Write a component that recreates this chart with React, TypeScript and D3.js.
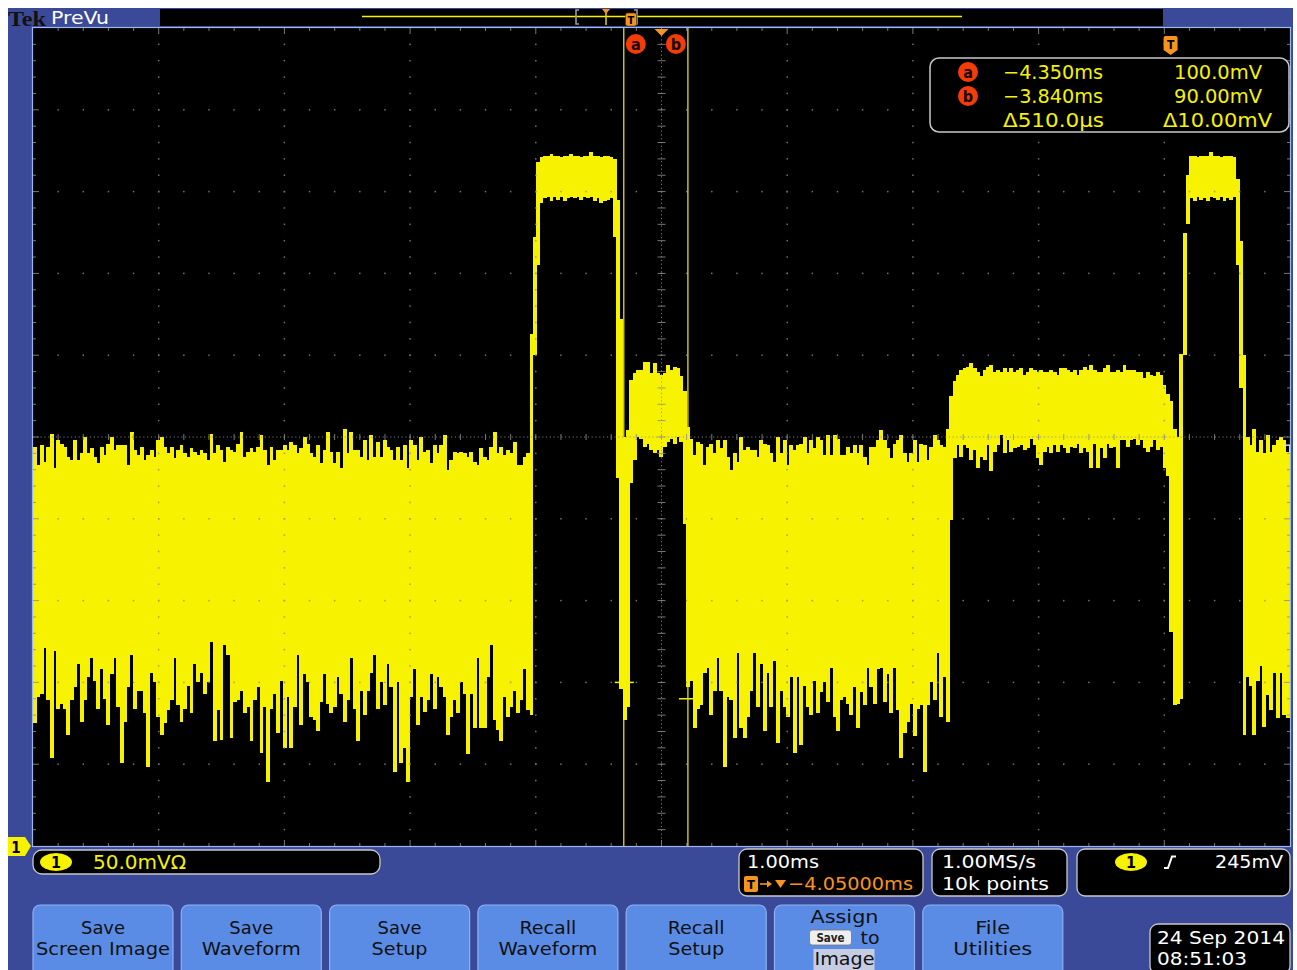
import React from "react";
import * as d3 from "d3";

// ---------- axis / acquisition settings ----------
const T_LEFT_MS = -9.05; // left edge of screen (10 div x 1.00 ms)
const T_RIGHT_MS = 0.95;
const V_MIN_MV = 0; // ground at bottom edge, 50 mV/div, 10 div
const V_MAX_MV = 500;
const COL_MS = 0.0265; // width of one display column (envelope max/min)

const CURSOR_A_MS = -4.35;
const CURSOR_B_MS = -3.84;
const CURSOR_A_MV = 100;
const CURSOR_B_MV = 90;
const TRIGGER_LEVEL_MV = 245;

// ---------- waveform envelope (max / min per display column, mV) ----------
const noiseAStartMs = -9.05;
const noiseAMax = [
  244, 233, 245, 235, 244, 252, 231, 248, 246, 244,
  238, 236, 248, 236, 240, 250, 240, 243, 238, 234,
  244, 239, 246, 250, 242, 245, 245, 245, 233, 253,
  242, 239, 244, 236, 239, 242, 238, 248, 250, 244,
  240, 244, 237, 242, 245, 240, 238, 243, 241, 239,
  242, 240, 236, 252, 240, 245, 242, 235, 244, 242,
  241, 246, 253, 238, 241, 243, 241, 244, 251, 242,
  233, 244, 236, 242,
  242, 245, 242, 247, 245, 240, 243, 250, 246, 240,
  238, 245, 234, 242, 253, 241, 234, 241, 231, 255,
  240, 253, 242, 242, 238, 248, 236, 251, 238, 247,
  238, 248, 244, 242, 236, 244, 236, 245, 231, 248,
  245, 236, 250, 241, 242, 234, 245, 240, 245, 251,
  230, 236, 241, 240, 241, 240, 238, 241, 235, 233,
  243, 238, 236, 244, 253, 240, 244, 239, 242, 240,
  247, 233, 233, 238, 240,
];
const noiseAMin = [
  75, 91, 93, 121, 89, 54, 119, 84, 87, 84,
  68, 89, 97, 111, 76, 89, 103, 115, 101, 84,
  108, 90, 74, 105, 115, 85, 51, 76, 97, 117,
  84, 95, 95, 81, 48, 106, 100, 79, 68, 75,
  83, 89, 115, 86, 76, 84, 98, 81, 111, 100,
  106, 93, 100, 125, 64, 83, 65, 123, 117, 66,
  88, 89, 95, 81, 85, 64, 89, 97, 57, 85,
  39, 84, 93, 69,
  101, 60, 91, 60, 85, 117, 74, 105, 100, 79,
  77, 70, 88, 105, 87, 81, 85, 103, 93, 76,
  89, 115, 84, 64, 95, 80, 95, 106, 117, 84,
  100, 86, 111, 97, 45, 100, 51, 60, 39, 91,
  108, 74, 91, 82, 89, 105, 84, 103, 97, 91,
  68, 79, 89, 81, 100, 93, 56, 93, 72, 115,
  72, 72, 103, 123, 77, 71, 64, 91, 79, 85,
  95, 81, 89, 108, 83,
];

const burst1StartMs = -5.1;
const burst1Max = [
  313, 372, 418,
  421, 422, 422, 423, 422, 422, 421, 422, 422, 423, 422,
  422, 421, 422, 422, 424, 422, 422, 421, 422, 422, 421,
  420, 395, 322, 250, 254,
];
const burst1Min = [
  80, 300, 355,
  393, 396, 397, 394, 397, 395, 397, 394, 396, 397, 396,
  397, 395, 397, 396, 397, 394, 396, 393, 394, 395, 396,
  372, 225, 96, 77, 85,
];

const plateau1StartMs = -4.305;
const plateau1Max = [
  285,
  289, 291, 291, 296, 296, 289, 295, 289, 288, 289, 294, 291, 293, 292, 287,
  278, 256,
];
const plateau1Min = [
  222,
  236, 250, 249, 244, 246, 242, 240, 242, 238, 244, 247, 249, 246, 250, 247,
  197, 97,
];

const noiseBStartMs = -3.828;
const noiseBMax = [
  249, 239, 247, 246, 233, 244, 246, 240, 248, 243,
  248, 238, 230, 240, 235, 250, 242, 244, 242, 242,
  238, 248, 246, 245, 240, 235, 250, 240, 248, 233,
  245, 242, 245, 246, 250, 240, 248, 243, 250, 248,
  239, 251, 239, 251, 249, 239, 239, 244, 240, 245,
  240, 245, 238, 233, 244, 244, 248, 254, 248, 243,
  237, 246, 248, 251, 240, 235, 240, 248, 235, 246,
  245, 236, 244, 251, 248, 245, 244, 255,
];
const noiseBMin = [
  101, 72, 84, 86, 106, 109, 80, 95, 115, 95,
  48, 91, 89, 66, 118, 72, 66, 79, 95, 118,
  85, 111, 70, 106, 85, 113, 63, 95, 85, 79,
  103, 57, 103, 62, 98, 85, 80, 101, 81, 94,
  100, 88, 109, 79, 70, 89, 91, 87, 80, 97,
  72, 94, 86, 109, 97, 87, 108, 109, 88, 105,
  81, 109, 83, 54, 69, 76, 87, 67, 84, 86,
  45, 86, 100, 89, 118, 79, 103, 76,
];

const plateau2StartMs = -1.76;
const plateau2Max = [
  275,
  284, 288, 291, 292, 293, 295, 292, 290, 287, 291,
  293, 294, 290, 291, 290, 292, 290, 292, 290, 291,
  292, 288, 290, 292, 291, 290, 291, 290, 290, 291,
  290, 288, 292, 292, 291, 290, 291, 288, 291, 293,
  291, 294, 291, 290, 290, 292, 294, 290, 290, 291,
  290, 294, 291, 291, 291, 290, 290, 286, 290, 288,
  287, 290, 288, 282,
];
const plateau2Min = [
  199,
  237, 245, 238, 245, 243, 236, 242, 231, 238, 236,
  245, 229, 241, 245, 251, 240, 248, 241, 243, 244,
  245, 242, 243, 249, 245, 237, 233, 241, 244, 240,
  245, 241, 245, 243, 240, 244, 243, 246, 240, 243,
  241, 231, 246, 231, 243, 237, 246, 243, 244, 231,
  248, 248, 244, 248, 249, 245, 248, 243, 241, 244,
  248, 242, 244, 231,
];

const burst2StartMs = -0.037;
const burst2Max = [
  276, 272, 255, 250, 301, 375, 410,
  422, 422, 421, 422, 422, 422, 424, 422, 422, 421, 422, 422, 422, 421,
  408, 370, 300,
];
const burst2Min = [
  226, 131, 86, 87, 90, 300, 380,
  396, 394, 397, 395, 396, 394, 397, 396, 395, 397, 394, 396, 395, 397,
  355, 280, 68,
];

const noiseCStartMs = 0.598;
const noiseCMax = [250, 245, 255, 241, 248, 240, 251, 241, 245, 248, 250, 248, 241, 245];
const noiseCMin = [103, 98, 68, 101, 110, 73, 92, 83, 106, 78, 106, 80, 78, 129];

// ---------- labels ----------
const cursorRows = [
  { id: "a", time: "\u22124.350ms", volt: "100.0mV" },
  { id: "b", time: "\u22123.840ms", volt: "90.00mV" },
];
const cursorDeltaTime = "\u0394510.0\u00b5s";
const cursorDeltaVolt = "\u039410.00mV";
const channelScale = "50.0mV\u03a9";
const timebase = "1.00ms";
const delayText = "\u22124.05000ms";
const sampleRate = "1.00MS/s";
const recordLength = "10k points";
const triggerLevel = "245mV";
const dateLine = "24 Sep  2014";
const timeLine = "08:51:03";
const buttonLabels = [
  ["Save", "Screen Image"],
  ["Save", "Waveform"],
  ["Save", "Setup"],
  ["Recall", "Waveform"],
  ["Recall", "Setup"],
  ["Assign", "to", "Image"],
  ["File", "Utilities"],
];
// measured label widths (px) on the soft buttons
const labelWidths: Record<string, number> = {
  Save: 44,
  "Screen Image": 134,
  Waveform: 99,
  Setup: 56,
  Recall: 57,
  Assign: 68,
  to: 19,
  Image: 60,
  File: 35,
  Utilities: 79,
};

// ---------- styling ----------
const BLUE = "#3b4a98";
const BTN = "#5a8ce6";
const YEL = "#f6f200";
const ORANGE = "#f7941d";
const RED = "#f43c08";
const GRID = "#8e8e8e";
const FONT = "'DejaVu Sans Condensed', 'DejaVu Sans', sans-serif";
const SCR = { x0: 33, x1: 1290, y0: 28, y1: 846 };

function T(props: any) {
  const { children, ...rest } = props;
  return (
    <text fontFamily={FONT} fontStretch="condensed" lengthAdjust="spacingAndGlyphs" {...rest}>
      {children}
    </text>
  );
}

export default function App() {
  const x = d3.scaleLinear().domain([T_LEFT_MS, T_RIGHT_MS]).range([SCR.x0, SCR.x1]);
  const y = d3.scaleLinear().domain([V_MIN_MV, V_MAX_MV]).range([SCR.y1, SCR.y0]);

  const segments = [
    { start: noiseAStartMs, max: noiseAMax, min: noiseAMin },
    { start: burst1StartMs, max: burst1Max, min: burst1Min },
    { start: plateau1StartMs, max: plateau1Max, min: plateau1Min },
    { start: noiseBStartMs, max: noiseBMax, min: noiseBMin },
    { start: plateau2StartMs, max: plateau2Max, min: plateau2Min },
    { start: burst2StartMs, max: burst2Max, min: burst2Min },
    { start: noiseCStartMs, max: noiseCMax, min: noiseCMin },
  ];
  const cols = segments.flatMap((s) =>
    s.max.map((mx, j) => ({ t0: s.start + j * COL_MS, mx, mn: s.min[j] }))
  );

  const minorX = d3.range(0, 51).map((m) => T_LEFT_MS + m * 0.2);
  const minorY = d3.range(0, 51).map((m) => V_MIN_MV + m * 10);
  const majorX = d3.range(0, 11).map((k) => T_LEFT_MS + k);
  const majorY = d3.range(0, 11).map((k) => V_MIN_MV + k * 50);
  const cx = x(majorX[5]);
  const cy = y(majorY[5]);

  const gridDots: any[] = [];
  majorY.slice(1, 10).forEach((v, k) => {
    if (k === 4) return;
    minorX.slice(1, 50).forEach((t, m) =>
      gridDots.push(<rect key={`h${k}-${m}`} x={x(t) - 0.75} y={y(v) - 0.75} width={1.5} height={1.5} fill={GRID} />)
    );
  });
  majorX.slice(1, 10).forEach((t, k) => {
    if (k === 4) return;
    minorY.slice(1, 50).forEach((v, m) =>
      gridDots.push(<rect key={`v${k}-${m}`} x={x(t) - 0.75} y={y(v) - 0.75} width={1.5} height={1.5} fill={GRID} />)
    );
  });
  const ticks: any[] = [];
  minorX.slice(1, 50).forEach((t, m) => {
    const major = (m + 1) % 5 === 0;
    const len = major ? 6 : 3;
    ticks.push(<line key={`tt${m}`} x1={x(t)} x2={x(t)} y1={SCR.y0} y2={SCR.y0 + len} />);
    ticks.push(<line key={`tb${m}`} x1={x(t)} x2={x(t)} y1={SCR.y1} y2={SCR.y1 - len} />);
    ticks.push(<line key={`tc${m}`} x1={x(t)} x2={x(t)} y1={cy - 3} y2={cy + 3} />);
  });
  minorY.slice(1, 50).forEach((v, m) => {
    const major = (m + 1) % 5 === 0;
    const len = major ? 6 : 3;
    ticks.push(<line key={`tl${m}`} y1={y(v)} y2={y(v)} x1={SCR.x0} x2={SCR.x0 + len} />);
    ticks.push(<line key={`tr${m}`} y1={y(v)} y2={y(v)} x1={SCR.x1} x2={SCR.x1 - len} />);
    ticks.push(<line key={`tm${m}`} y1={y(v)} y2={y(v)} x1={cx - 4} x2={cx + 4} />);
  });

  const xa = x(CURSOR_A_MS);
  const xb = x(CURSOR_B_MS);
  const btnPitch = 148.3;
  const BF = 17.5; // soft-button label font size

  return (
    <svg
      width={1297}
      height={970}
      viewBox="0 0 1297 970"
      style={{ position: "absolute", left: 0, top: 0, display: "block" }}
    >
      <defs>
        <clipPath id="scr">
          <rect x={SCR.x0} y={SCR.y0} width={SCR.x1 - SCR.x0} height={SCR.y1 - SCR.y0} />
        </clipPath>
      </defs>
      <rect x={0} y={0} width={1297} height={970} fill="#fff" />
      {/* frame */}
      <rect x={8} y={8} width={1285} height={962} fill={BLUE} />
      {/* header */}
      <T x={8} y={26} fontSize={21} fontWeight="bold" fill="#111" textLength={38} fontFamily="'Liberation Serif', serif">
        Tek
      </T>
      <T x={51} y={23.5} fontSize={18} fill="#fff" textLength={58}>
        PreVu
      </T>
      <rect x={160} y={9} width={1003} height={17} fill="#000" />
      <line x1={362} x2={962} y1={16.5} y2={16.5} stroke={YEL} strokeWidth={1.5} />
      <path d="M579,10 L576,10 L576,24 L579,24" fill="none" stroke="#9a9a9a" strokeWidth={1.6} />
      <path d="M634,10 L637,10 L637,24 L634,24" fill="none" stroke="#9a9a9a" strokeWidth={1.6} />
      <line x1={606} x2={606} y1={10} y2={25} stroke="#e8d000" strokeWidth={1.5} />
      <path d="M602,9 L610,9 L606,14 Z" fill={ORANGE} />
      <rect x={625.5} y={13} width={11} height={13} rx={2} fill={ORANGE} stroke="#333" strokeWidth={0.6} />
      <T x={631} y={24} fontSize={11} fontWeight="bold" fill="#000" textAnchor="middle">
        T
      </T>

      {/* screen */}
      <rect x={SCR.x0} y={SCR.y0} width={SCR.x1 - SCR.x0} height={SCR.y1 - SCR.y0} fill="#000" />
      <g clipPath="url(#scr)" shapeRendering="crispEdges">
        {cols.map((c, i) => {
          const x0 = x(c.t0);
          const x1 = x(c.t0 + COL_MS);
          return (
            <rect key={i} x={x0} width={x1 - x0 + 0.6} y={y(c.mx)} height={y(c.mn) - y(c.mx)} fill={YEL} />
          );
        })}
      </g>
      {/* graticule */}
      <g opacity={0.8}>{gridDots}</g>
      <g stroke={GRID} strokeWidth={1} opacity={0.85}>
        {ticks}
        <line x1={SCR.x0} x2={SCR.x1} y1={cy} y2={cy} strokeDasharray="1.2 2.6" />
        <line x1={cx} x2={cx} y1={SCR.y0} y2={SCR.y1} strokeDasharray="1.2 2.6" />
      </g>
      <rect
        x={SCR.x0 - 0.5}
        y={SCR.y0 - 0.5}
        width={SCR.x1 - SCR.x0 + 1}
        height={SCR.y1 - SCR.y0 + 1}
        fill="none"
        stroke="#9fb6ec"
        strokeWidth={1.2}
      />

      {/* cursors */}
      <g stroke={YEL} strokeWidth={1.2}>
        <line x1={xa} x2={xa} y1={SCR.y0} y2={SCR.y1} />
        <line x1={xb} x2={xb} y1={SCR.y0} y2={SCR.y1} />
        <line x1={xa - 9} x2={xa + 10} y1={y(CURSOR_A_MV)} y2={y(CURSOR_A_MV)} strokeWidth={1.5} />
        <line x1={xb - 9} x2={xb + 10} y1={y(CURSOR_B_MV)} y2={y(CURSOR_B_MV)} strokeWidth={1.5} />
      </g>
      {[
        { id: "a", cxp: xa + 12 },
        { id: "b", cxp: xb - 12 },
      ].map((c) => (
        <g key={c.id}>
          <circle cx={c.cxp} cy={44} r={10} fill={RED} />
          <T x={c.cxp} y={49.5} fontSize={16} fontWeight="bold" fill="#1a0000" textAnchor="middle">
            {c.id}
          </T>
        </g>
      ))}
      <path d={`M${cx - 7},${SCR.y0 + 1} L${cx + 7},${SCR.y0 + 1} L${cx},${SCR.y0 + 8} Z`} fill={ORANGE} />
      {/* trigger position marker */}
      <path
        d={`M${x(0) - 7},38 Q${x(0) - 7},36 ${x(0) - 5},36 L${x(0) + 5},36 Q${x(0) + 7},36 ${x(0) + 7},38 L${x(0) + 7},50 L${x(0)},55 L${x(0) - 7},50 Z`}
        fill={ORANGE}
      />
      <T x={x(0)} y={49} fontSize={12} fontWeight="bold" fill="#000" textAnchor="middle">
        T
      </T>
      {/* trigger level indicator */}
      <line x1={SCR.x1 - 7} x2={SCR.x1} y1={y(TRIGGER_LEVEL_MV)} y2={y(TRIGGER_LEVEL_MV)} stroke="#dddddd" strokeWidth={1.5} />

      {/* cursor readout */}
      <rect x={930} y={58} width={359} height={74} rx={9} fill="#000" stroke="#c9c9c9" strokeWidth={1.5} />
      {cursorRows.map((r, i) => (
        <g key={r.id}>
          <circle cx={968} cy={72 + i * 24} r={10} fill={RED} />
          <T x={968} y={77.5 + i * 24} fontSize={16} fontWeight="bold" fill="#1a0000" textAnchor="middle">
            {r.id}
          </T>
          <T x={1003} y={79 + i * 24} fontSize={20} fill={YEL} textLength={100}>
            {r.time}
          </T>
          <T x={1262} y={79 + i * 24} fontSize={20} fill={YEL} textLength={88} textAnchor="end">
            {r.volt}
          </T>
        </g>
      ))}
      <T x={1003} y={127} fontSize={20} fill={YEL} textLength={101}>
        {cursorDeltaTime}
      </T>
      <T x={1272} y={127} fontSize={20} fill={YEL} textLength={109} textAnchor="end">
        {cursorDeltaVolt}
      </T>

      {/* channel ground marker */}
      <path d="M8,837 L25,837 L31,846 L25,856 L8,856 Z" fill={YEL} />
      <T x={16} y={853} fontSize={15} fontWeight="bold" fill="#000" textAnchor="middle">
        1
      </T>

      {/* channel readout */}
      <rect x={33} y={850} width={347} height={24} rx={9} fill="#000" stroke="#c9c9c9" strokeWidth={1.3} />
      <ellipse cx={56} cy={862} rx={16} ry={9} fill={YEL} />
      <T x={56} y={868} fontSize={16} fontWeight="bold" fill="#000" textAnchor="middle">
        1
      </T>
      <T x={93} y={869} fontSize={19} fill={YEL} textLength={93}>
        {channelScale}
      </T>

      {/* timebase */}
      <rect x={739} y={849} width={184} height={47} rx={8} fill="#000" stroke="#c9c9c9" strokeWidth={1.3} />
      <T x={747} y={868} fontSize={18.5} fill="#fff" textLength={72}>
        {timebase}
      </T>
      <rect x={744} y={876} width={14} height={16} rx={2} fill={ORANGE} />
      <T x={751} y={889} fontSize={13} fontWeight="bold" fill="#000" textAnchor="middle">
        T
      </T>
      <line x1={760} x2={769} y1={884} y2={884} stroke={ORANGE} strokeWidth={1.6} />
      <path d="M767,880.5 L772,884 L767,887.5 Z" fill={ORANGE} />
      <path d="M775,880 L786,880 L780.5,888 Z" fill={ORANGE} />
      <T x={788} y={890} fontSize={18.5} fill={ORANGE} textLength={125}>
        {delayText}
      </T>

      {/* acquisition */}
      <rect x={932} y={849} width={135} height={47} rx={8} fill="#000" stroke="#c9c9c9" strokeWidth={1.3} />
      <T x={942} y={868} fontSize={18.5} fill="#fff" textLength={94}>
        {sampleRate}
      </T>
      <T x={942} y={890} fontSize={18.5} fill="#fff" textLength={107}>
        {recordLength}
      </T>

      {/* trigger */}
      <rect x={1077} y={849} width={213} height={47} rx={8} fill="#000" stroke="#c9c9c9" strokeWidth={1.3} />
      <ellipse cx={1131} cy={862} rx={16} ry={9} fill={YEL} />
      <T x={1131} y={868} fontSize={16} fontWeight="bold" fill="#000" textAnchor="middle">
        1
      </T>
      <path d="M1164,868 L1168,868 L1172,856.5 L1176,856.5" fill="none" stroke="#fff" strokeWidth={2} />
      <T x={1283} y={868} fontSize={18.5} fill="#fff" textLength={68} textAnchor="end">
        {triggerLevel}
      </T>

      {/* date */}
      <rect x={1150} y={924} width={140} height={50} rx={8} fill="#000" stroke="#c9c9c9" strokeWidth={1.3} />
      <T x={1157} y={944} fontSize={18} fill="#fff" textLength={128}>
        {dateLine}
      </T>
      <T x={1157} y={965} fontSize={18} fill="#fff" textLength={90}>
        {timeLine}
      </T>

      {/* soft buttons */}
      {buttonLabels.map((lab, i) => {
        const bx = 33 + i * btnPitch;
        const mid = bx + 70;
        return (
          <g key={i}>
            <rect x={bx} y={905} width={140} height={75} rx={7} fill={BTN} stroke="#8fb0f2" strokeWidth={1.2} />
            {lab.length === 2 ? (
              <>
                <T x={mid} y={934} fontSize={BF} fill="#111" textAnchor="middle" textLength={labelWidths[lab[0]]}>
                  {lab[0]}
                </T>
                <T x={mid} y={955} fontSize={BF} fill="#111" textAnchor="middle" textLength={labelWidths[lab[1]]}>
                  {lab[1]}
                </T>
              </>
            ) : (
              <>
                <T x={mid} y={923} fontSize={BF} fill="#111" textAnchor="middle" textLength={labelWidths[lab[0]]}>
                  {lab[0]}
                </T>
                <rect x={mid - 35} y={930} width={42} height={15} rx={3} fill="#eeeeee" stroke="#777" strokeWidth={0.8} />
                <T x={mid - 14} y={942} fontSize={11.5} fontWeight="bold" fill="#222" textAnchor="middle">
                  Save
                </T>
                <T x={mid + 16} y={944} fontSize={BF} fill="#111" textLength={labelWidths[lab[1]]}>
                  {lab[1]}
                </T>
                <rect x={mid - 31} y={949} width={61} height={21} fill="#c6cde3" />
                <T x={mid} y={965} fontSize={BF} fill="#111" textAnchor="middle" textLength={labelWidths[lab[2]]}>
                  {lab[2]}
                </T>
              </>
            )}
          </g>
        );
      })}
    </svg>
  );
}
